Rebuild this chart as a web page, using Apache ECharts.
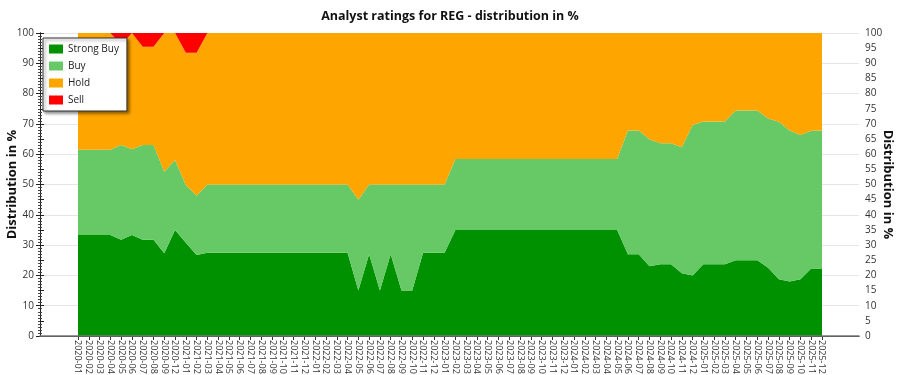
<!DOCTYPE html>
<html>
<head>
<meta charset="utf-8">
<script src="https://cdn.jsdelivr.net/npm/echarts@6/dist/echarts.min.js"></script>
<style>html,body{margin:0;padding:0;background:#fff;}#chart{width:900px;height:375px;}</style>
</head>
<body>
<div id="chart"></div>
<script>
var categories = ['2020-01','2020-02','2020-03','2020-04','2020-05','2020-06','2020-07','2020-08','2020-09','2020-12',
 '2021-01','2021-02','2021-03','2021-04','2021-05','2021-06','2021-07','2021-08','2021-09','2021-10','2021-11','2021-12',
 '2022-01','2022-02','2022-03','2022-04','2022-05','2022-06','2022-07','2022-08','2022-09','2022-10','2022-11','2022-12',
 '2023-01','2023-02','2023-03','2023-04','2023-05','2023-06','2023-07','2023-08','2023-09','2023-10','2023-11','2023-12',
 '2024-01','2024-02','2024-03','2024-04','2024-05','2024-06','2024-07','2024-08','2024-09','2024-10','2024-11','2024-12',
 '2025-01','2025-02','2025-03','2025-04','2025-05','2025-06','2025-07','2025-08','2025-09','2025-10','2025-11','2025-12'];

var strongBuy = [33.3,33.3,33.3,33.3,31.8,33.3,31.8,31.8,27.3,35,
 30.8,26.7,27.5,27.5,27.5,27.5,27.5,27.5,27.5,27.5,27.5,27.5,
 27.5,27.5,27.5,27.5,15,27,15,27,15,15,27.5,27.5,
 27.5,35,35,35,35,35,35,35,35,35,35,35,
 35,35,35,35,35,27,27,23,23.7,23.7,20.7,20,
 23.7,23.7,23.7,25,25,25,22.5,18.7,18,18.7,22.3,22.3];

var buy = [28.2,28.2,28.2,28.2,31.2,28.3,31.2,31.2,26.9,23.1,
 19,19.6,22.5,22.5,22.5,22.5,22.5,22.5,22.5,22.5,22.5,22.5,
 22.5,22.5,22.5,22.5,30,23,35,23,35,35,22.5,22.5,
 22.5,23.4,23.4,23.4,23.4,23.4,23.4,23.4,23.4,23.4,23.4,23.4,
 23.4,23.4,23.4,23.4,23.4,40.8,40.8,41.9,39.9,39.9,41.6,49.6,
 47.1,47.1,47.1,49.4,49.4,49.4,49.3,52,49.8,47.6,45.4,45.5];

var hold = [38.5,38.5,38.5,38.5,33,38.4,32.5,32.5,45.8,41.9,
 43.7,47.2,50,50,50,50,50,50,50,50,50,50,
 50,50,50,50,55,50,50,50,50,50,50,50,
 50,41.6,41.6,41.6,41.6,41.6,41.6,41.6,41.6,41.6,41.6,41.6,
 41.6,41.6,41.6,41.6,41.6,32.2,32.2,35.1,36.4,36.4,37.7,30.4,
 29.2,29.2,29.2,25.6,25.6,25.6,28.2,29.3,32.2,33.7,32.3,32.2];

var sell = [0,0,0,0,4,0,4.5,4.5,0,0,
 6.5,6.5,0,0,0,0,0,0,0,0,0,0,
 0,0,0,0,0,0,0,0,0,0,0,0,
 0,0,0,0,0,0,0,0,0,0,0,0,
 0,0,0,0,0,0,0,0,0,0,0,0,
 0,0,0,0,0,0,0,0,0,0,0,0];

var leftTicks = [0,10,20,30,40,50,60,70,80,90,100];
var rightTicks = [0,5,10,15,20,25,30,35,40,45,50,55,60,65,70,75,80,85,90,95,100];

var FONT = 'Open Sans';
var chart = echarts.init(document.getElementById('chart'), null, {renderer:'canvas'});

function mk(name, data, color) {
  return {
    name: name, type: 'line', stack: 'total', xAxisIndex: 2, yAxisIndex: 2,
    data: data, showSymbol: false, symbol: 'none', smooth: false,
    lineStyle: {width: 0}, areaStyle: {color: color, opacity: 1}, itemStyle: {color: color},
    emphasis: {disabled: true}, z: 2
  };
}

chart.setOption({
  animation: false,
  backgroundColor: '#fff',
  textStyle: {fontFamily: FONT},
  title: {
    text: 'Analyst ratings for REG - distribution in %', left: 'center', top: 5,
    textStyle: {fontFamily: FONT, fontSize: 12.5, fontWeight: 'bold', color: '#111'}
  },
  legend: {
    orient: 'vertical', left: 43, top: 38,
    padding: [6, 8, 6, 6], itemGap: 7, itemWidth: 14, itemHeight: 9, icon: 'rect',
    backgroundColor: '#fff', borderColor: '#333', borderWidth: 1,
    shadowColor: 'rgba(0,0,0,0.45)', shadowBlur: 3, shadowOffsetX: 2, shadowOffsetY: 2,
    textStyle: {fontFamily: FONT, fontSize: 10, color: '#222'},
    data: ['Strong Buy', 'Buy', 'Hold', 'Sell'],
    selectedMode: false
  },
  grid: [
    {left: 40, right: 41, top: 33, bottom: 39, outerBoundsMode: 'none', containLabel: false},
    {left: 78, right: 78, top: 33, bottom: 39, outerBoundsMode: 'none', containLabel: false}
  ],
  xAxis: [
    {type: 'value', gridIndex: 0, min: 0, max: 1, position: 'bottom', z: 10,
     axisLine: {show: true, lineStyle: {color: '#222', width: 1}}, axisTick: {show: false},
     axisLabel: {show: false}, splitLine: {show: false}},
    {type: 'value', gridIndex: 0, min: 0, max: 1, position: 'top', z: 10,
     axisLine: {show: true, lineStyle: {color: '#777', width: 1.5}}, axisTick: {show: false},
     axisLabel: {show: false}, splitLine: {show: false}},
    {type: 'category', gridIndex: 1, data: categories, boundaryGap: false,
     axisLine: {show: false},
     axisTick: {show: true, alignWithLabel: true, length: 4, interval: 0, lineStyle: {color: '#333'}},
     axisLabel: {interval: 0, rotate: -90, fontSize: 9, color: '#333', margin: 4, fontFamily: FONT},
     splitLine: {show: false}}
  ],
  yAxis: [
    {type: 'value', gridIndex: 0, min: 0, max: 100, interval: 10, position: 'left',
     name: 'Distribution in %', nameLocation: 'middle', nameGap: 21, nameMoveOverlap: false,
     nameTextStyle: {fontFamily: FONT, fontSize: 13, fontWeight: 'bold', color: '#111'},
     axisLine: {show: true, lineStyle: {color: '#222'}},
     axisTick: {show: true, length: 4, lineStyle: {color: '#222'}},
     minorTick: {show: true, splitNumber: 10, length: 2, lineStyle: {color: '#444'}},
     axisLabel: {fontSize: 10, color: '#333', margin: 6, fontFamily: FONT,
       formatter: function (v) { return leftTicks.indexOf(v) >= 0 ? String(v) : ''; }},
     splitLine: {show: true, lineStyle: {color: '#e6e6e6', width: 1}}},
    {type: 'value', gridIndex: 0, min: 0, max: 100, interval: 5, position: 'right',
     name: 'Distribution in %', nameLocation: 'middle', nameGap: 22, nameRotate: -90, nameMoveOverlap: false,
     nameTextStyle: {fontFamily: FONT, fontSize: 13, fontWeight: 'bold', color: '#111'},
     axisLine: {show: true, lineStyle: {color: '#222'}},
     axisTick: {show: true, length: 4, lineStyle: {color: '#222'}},
     minorTick: {show: true, splitNumber: 5, length: 2, lineStyle: {color: '#444'}},
     axisLabel: {fontSize: 10, color: '#333', margin: 6, fontFamily: FONT,
       formatter: function (v) { return rightTicks.indexOf(v) >= 0 ? String(v) : ''; }},
     splitLine: {show: false}},
    {type: 'value', gridIndex: 1, min: 0, max: 100, show: false}
  ],
  series: [
    mk('Strong Buy', strongBuy, '#009100'),
    mk('Buy', buy, '#66c966'),
    mk('Hold', hold, '#ffa500'),
    mk('Sell', sell, '#ff0000')
  ]
});
</script>
</body>
</html>
